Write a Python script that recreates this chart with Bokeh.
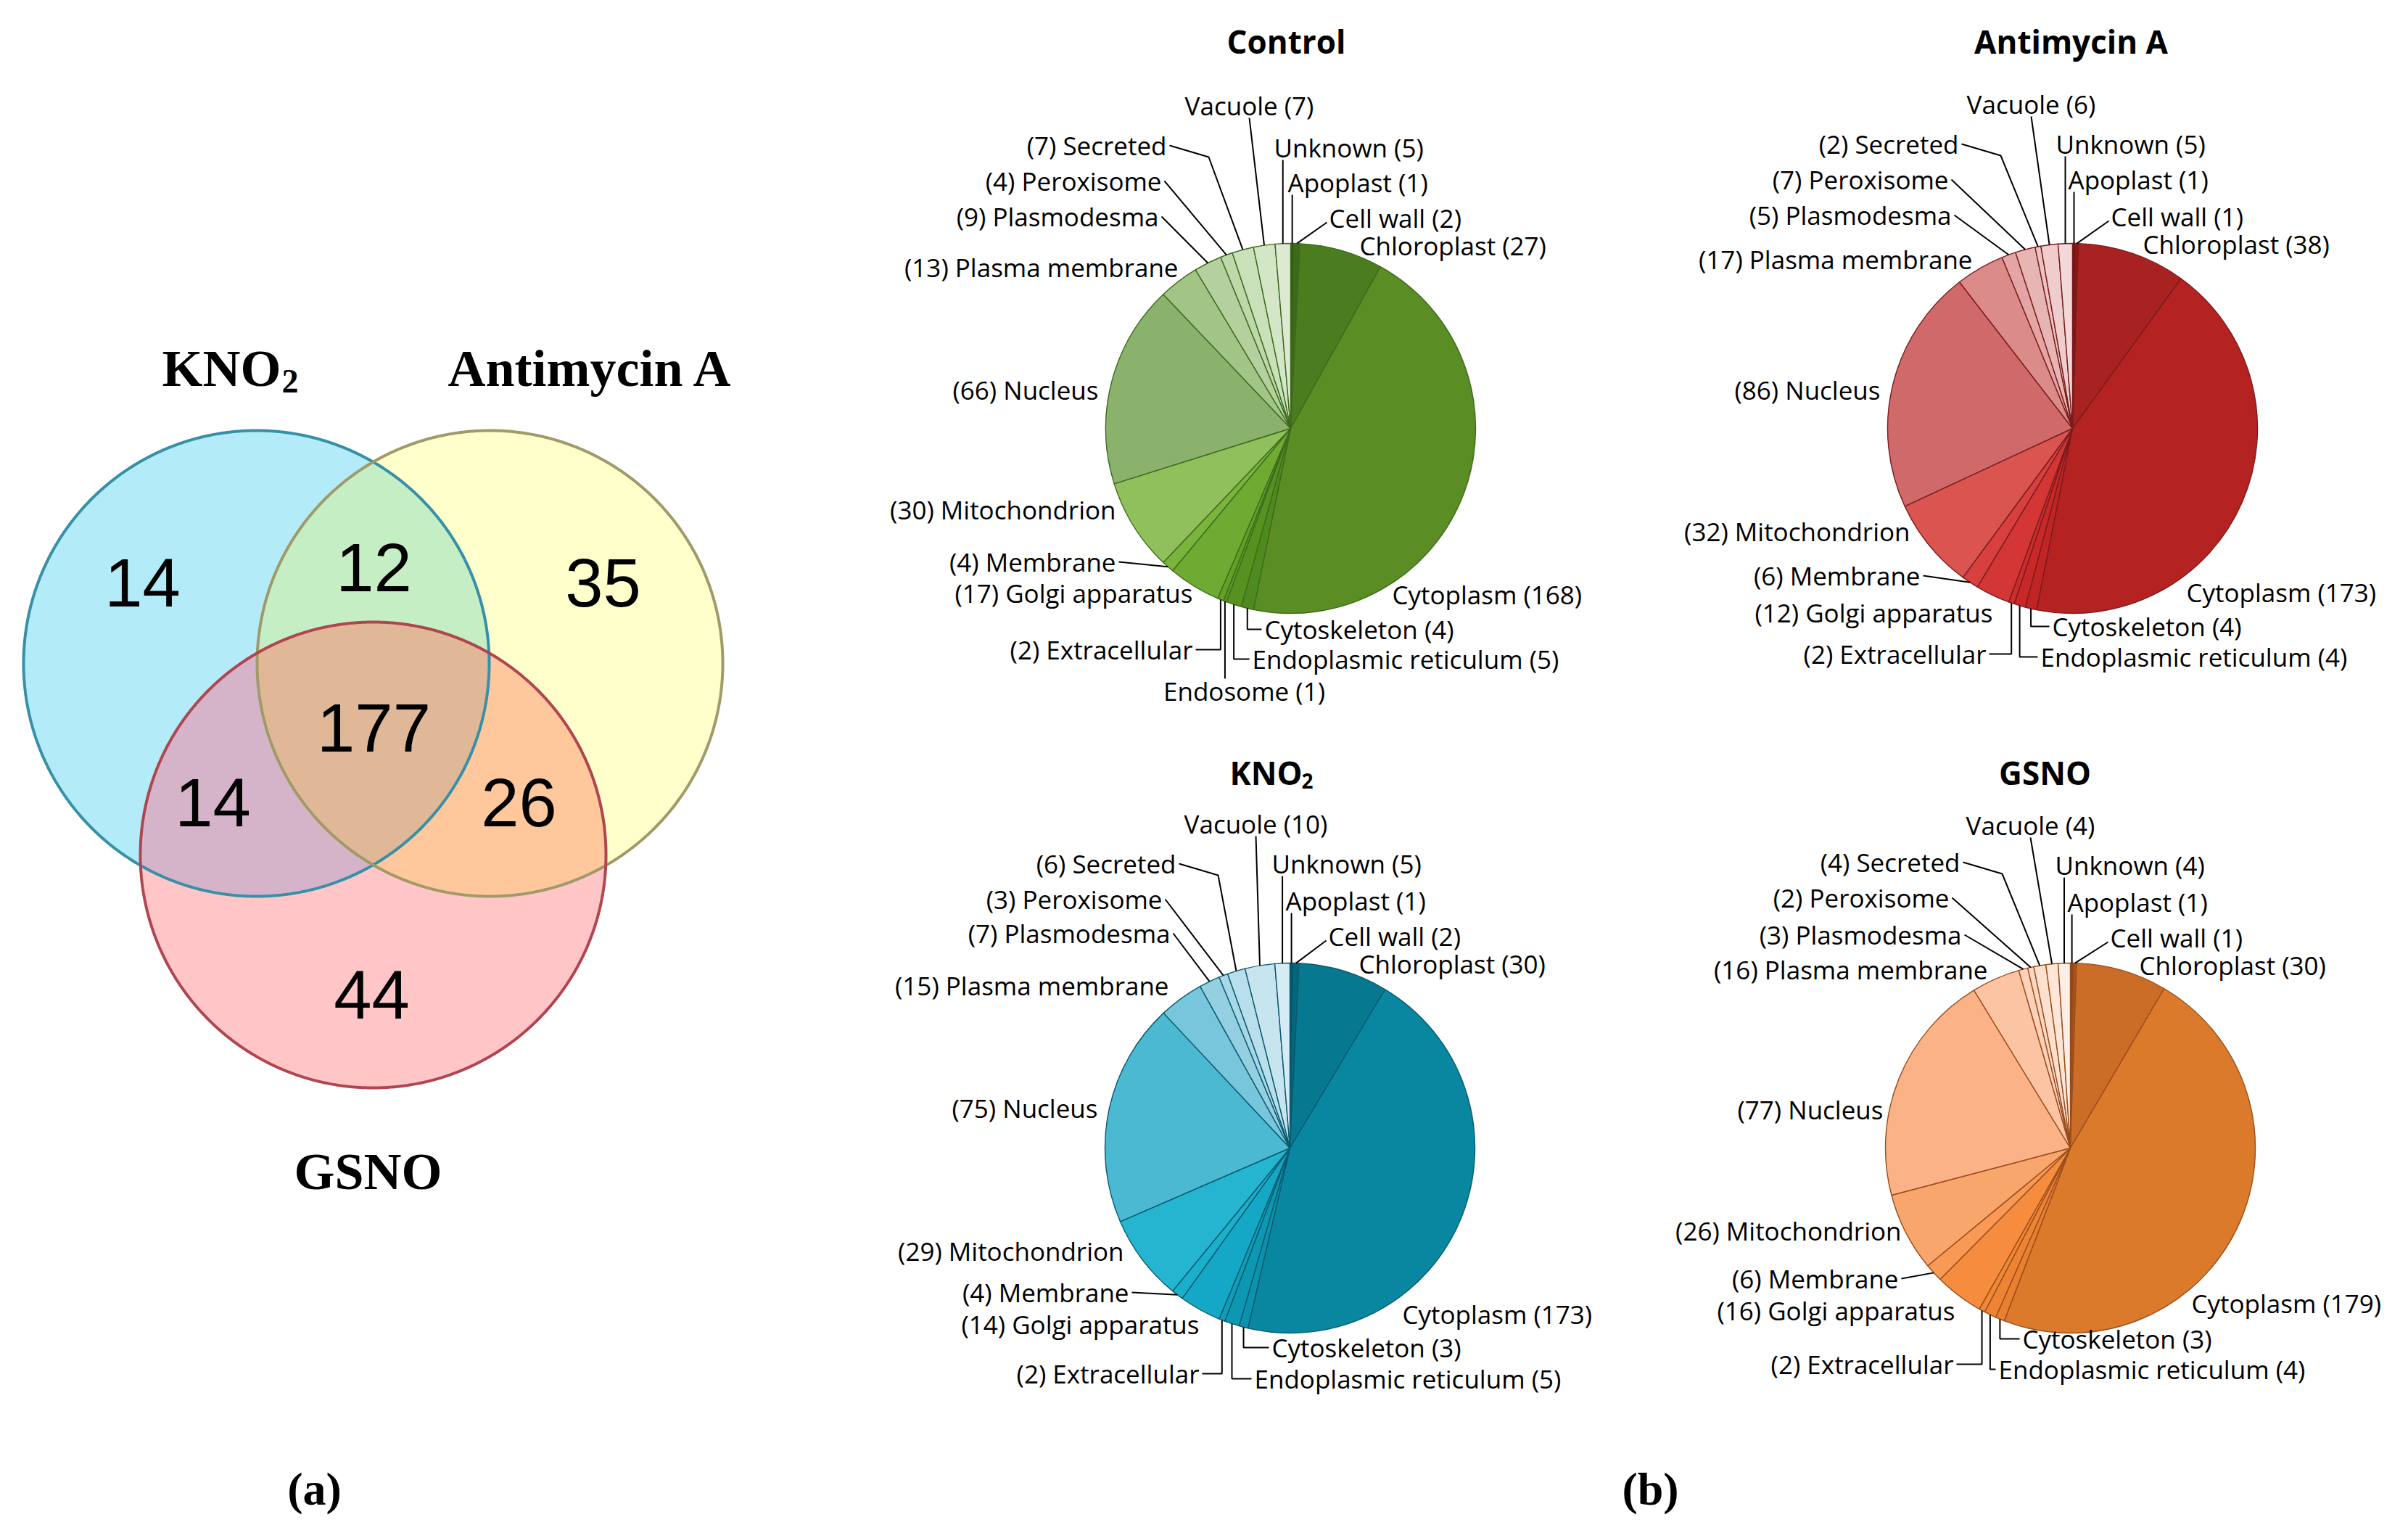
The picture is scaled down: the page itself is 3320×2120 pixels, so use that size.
import numpy as np
from bokeh.plotting import figure
from bokeh.models import Range1d, ColumnDataSource
from bokeh.core.properties import value
from bokeh.embed import file_html
from bokeh.resources import INLINE

H = 2120  # reference page height (y measured downward in layout tables)

# ------------------------------------------------------------------ data
venn_regions = ["K", "A", "G", "KA", "KG", "AG", "KAG"]
venn_counts = [14, 35, 44, 12, 14, 26, 177]

categories = ["Apoplast", "Cell wall", "Chloroplast", "Cytoplasm", "Cytoskeleton",
              "Endoplasmic reticulum", "Endosome", "Extracellular", "Golgi apparatus",
              "Membrane", "Mitochondrion", "Nucleus", "Plasma membrane", "Plasmodesma",
              "Peroxisome", "Secreted", "Vacuole", "Unknown"]
control = [1, 2, 27, 168, 4, 5, 1, 2, 17, 4, 30, 66, 13, 9, 4, 7, 7, 5]
antimycin = [1, 1, 38, 173, 4, 4, 0, 2, 12, 6, 32, 86, 17, 5, 7, 2, 6, 5]
kno2 = [1, 2, 30, 173, 3, 5, 0, 2, 14, 4, 29, 75, 15, 7, 3, 6, 10, 5]
gsno = [1, 1, 30, 179, 3, 4, 0, 2, 16, 6, 26, 77, 16, 3, 2, 4, 4, 4]

# ------------------------------------------------------------------ layout / styles
label_align = ["left", "left", "left", "left", "left", "left", "center", "right", "right",
               "right", "right", "right", "right", "right", "right", "right", "center", "left"]
leader_kind = ["vert", "diagL", None, None, "down_right", "down_right", "down", "down_left", None,
               "diag", None, None, None, "diag", "diag", "stub", "vac", "vert"]

off_control = [(-4, -339), (53, -290), (95, -252), (140, 229), (-36, 277), (-53, 318), (-64, 362),
               (-135, 305), (-135, 227), (-241, 184), (-241, 112), (-265, -53), (-155, -222),
               (-182, -292), (-178, -341), (-171, -390), (-57, -445), (-23, -387)]
off_anti = [(-6, -343), (53, -292), (97, -254), (157, 226), (-28, 273), (-44, 315), None,
            (-119, 311), (-110, 254), (-210, 203), (-224, 142), (-265, -53), (-138, -233),
            (-167, -294), (-171, -343), (-157, -392), (-57, -447), (-23, -392)]
off_kno2 = [(-6, -341), (53, -292), (95, -254), (155, 229), (-25, 275), (-49, 318), None,
            (-125, 311), (-125, 243), (-222, 199), (-229, 142), (-265, -55), (-167, -224),
            (-165, -296), (-176, -343), (-157, -392), (-47, -447), (-25, -392)]
off_gsno = [(-4, -339), (55, -290), (95, -252), (167, 214), (-66, 263), (-99, 305), None,
            (-161, 298), (-159, 224), (-237, 180), (-233, 114), (-258, -53), (-114, -246),
            (-150, -294), (-167, -345), (-152, -394), (-55, -445), (-21, -390)]

pal_green = ["#2f5a12", "#3b6b18", "#4b7c1f", "#5a8d24", "#4f8a1f", "#56921f", "#5c9a22", "#62a026",
             "#6fab32", "#7ab43c", "#8fc05c", "#8ab26c", "#a2c587", "#b3d09e", "#bed8ac", "#c9e0ba",
             "#d3e6c7", "#dee9d4"]
pal_red = ["#7a1010", "#8a1515", "#a82222", "#b42222", "#c02424", "#c82828", "#cc2a2a", "#cc2c2c",
           "#d43636", "#d84040", "#da5450", "#d06a6a", "#dc8b8b", "#e3a5a5", "#e8b5b5", "#ecc2c2",
           "#efcdcd", "#f2d8d8"]
pal_teal = ["#04556a", "#05677e", "#06788f", "#0a87a0", "#0b92ad", "#0c98b3", "#0e9bb6", "#0f9eb9",
            "#15a8c6", "#1aafcb", "#25b5d1", "#4cb9d3", "#78c6dc", "#95d0e2", "#a8d8e8", "#b8dfeb",
            "#c6e5ef", "#d5ecf4"]
pal_orange = ["#8a4a18", "#a8561c", "#cb6c27", "#dc7a2c", "#e88030", "#ec8434", "#ee8636", "#f08838",
              "#f68d3e", "#f89a56", "#f9a66c", "#fbb286", "#fcc4a2", "#fdd2b8", "#fdd9c4", "#fee0cf",
              "#fee6d9", "#ffeee6"]

R = 255
pies = [
    dict(title="Control", values=control, cx=1780, cy=591, ty=57, pal=pal_green, edge="#3e6a1c", off=off_control),
    dict(title="Antimycin A", values=antimycin, cx=2858, cy=591, ty=57, pal=pal_red, edge="#7a1c1c", off=off_anti),
    dict(title="KNO", sub="2", values=kno2, cx=1779, cy=1583, ty=1065, pal=pal_teal, edge="#0a5a6e", off=off_kno2),
    dict(title="GSNO", values=gsno, cx=2855, cy=1583, ty=1065, pal=pal_orange, edge="#9a4c1c", off=off_gsno),
]

LABEL_FONT = "Open Sans"
LABEL_SIZE = 35

p = figure(width=3300, height=2100, x_range=Range1d(1, 3301), y_range=Range1d(19, 2119),
           output_backend="svg", toolbar_location=None, min_border=0,
           x_axis_location=None, y_axis_location=None)
p.xgrid.visible = False
p.ygrid.visible = False
p.outline_line_color = None
p.background_fill_color = "white"
p.border_fill_color = "white"


def Y(ys):
    return [H - v for v in ys]


def txt(xs, ys, texts, font, size, align="center", style="normal", baseline="middle"):
    p.text(x=list(xs), y=Y(ys), text=list(texts), text_font=value(font),
           text_font_size=value(f"{size}px"), text_align=align, text_baseline=baseline,
           text_font_style=style, text_color="black")


# ------------------------------------------------------------------ Venn diagram
v_centers = {"K": (354, 915), "A": (676, 915), "G": (515, 1179)}
v_r = 321
v_fill = {"K": "#b4ebf9", "A": "#ffffcc", "G": "#ffc5c7", "KA": "#c6eec4", "KG": "#d5b4ca",
          "AG": "#ffc89c", "KAG": "#e0b898"}
v_line = {"K": "#3590a8", "A": "#a09a68", "G": "#b0454f"}
v_num_pos = {"K": (197, 804), "A": (832, 804), "G": (513, 1372), "KA": (516, 783),
             "KG": (294, 1107), "AG": (716, 1107), "KAG": (516, 1004)}


def region(keys):
    t = np.linspace(0, 2 * np.pi, 1440, endpoint=False)
    pts = []
    for k in keys:
        cx, cy = v_centers[k]
        x = cx + v_r * np.cos(t)
        y = cy + v_r * np.sin(t)
        m = np.ones_like(x, dtype=bool)
        for j in keys:
            if j != k:
                jx, jy = v_centers[j]
                m &= (x - jx) ** 2 + (y - jy) ** 2 <= v_r ** 2 + 1e-6
        pts.append(np.c_[x[m], y[m]])
    P = np.vstack(pts)
    c = P.mean(axis=0)
    o = np.argsort(np.arctan2(P[:, 1] - c[1], P[:, 0] - c[0]))
    return P[o, 0], H - P[o, 1]


for key in ["K", "A", "G", "KA", "KG", "AG", "KAG"]:
    xs, ys = region(list(key))
    p.patch(xs, ys, fill_color=v_fill[key], line_color=None)
for key in ["K", "A", "G"]:
    xs, ys = region([key])
    p.patch(np.r_[xs, xs[:1]], np.r_[ys, ys[:1]], fill_color=None, line_color=v_line[key], line_width=4)

txt([v_num_pos[k][0] for k in venn_regions], [v_num_pos[k][1] for k in venn_regions],
    [str(c) for c in venn_counts], "Liberation Sans", 94)

# set titles
txt([224], [508], ["KNO"], "Liberation Serif", 72, align="left", style="bold")
txt([389], [526], ["2"], "Liberation Serif", 46, align="left", style="bold")
txt([815], [508], ["Antimycin A"], "Liberation Serif", 72, style="bold")
txt([508], [1615], ["GSNO"], "Liberation Serif", 72, style="bold")

# panel labels
txt([434, 2276], [2053, 2053], ["(a)", "(b)"], "Liberation Serif", 64, style="bold")

# ------------------------------------------------------------------ pies
for pie in pies:
    vals = np.array(pie["values"], dtype=float)
    tot = vals.sum()
    a2 = np.cumsum(vals) / tot * 360.0
    a1 = a2 - vals / tot * 360.0
    keep = vals > 0
    src = ColumnDataSource(dict(
        start=np.radians(90 - a2[keep]), end=np.radians(90 - a1[keep]),
        color=[c for c, k in zip(pie["pal"], keep) if k]))
    cx, cy = pie["cx"], pie["cy"]
    p.wedge(x=cx, y=H - cy, radius=R, start_angle="start", end_angle="end", source=src,
            fill_color="color", line_color=pie["edge"], line_width=1.4)

    # labels and leaders (screen coords, y down)
    groups = {"left": ([], [], []), "right": ([], [], []), "center": ([], [], [])}
    lx_all, ly_all = [], []
    for i, cat in enumerate(categories):
        if vals[i] <= 0 or pie["off"][i] is None:
            continue
        dx, dy = pie["off"][i]
        lx, ly = cx + dx, cy + dy
        al = label_align[i]
        v = int(vals[i])
        label = f"({v}) {cat}" if al == "right" else f"{cat} ({v})"
        g = groups[al]
        g[0].append(lx); g[1].append(ly); g[2].append(label)

        mid = np.radians((a1[i] + a2[i]) / 2)
        ex, ey = cx + R * np.sin(mid), cy - R * np.cos(mid)
        kind = leader_kind[i]
        path = None
        if kind == "vert":
            path = [(ex, ly + 17), (ex, ey)]
        elif kind == "vac":
            path = [(lx, ly + 17), (ex, ey)]
        elif kind == "diag":
            path = [(lx + 4, ly), (ex, ey)]
        elif kind == "diagL":
            path = [(lx - 3, ly + 6), (ex, ey)]
        elif kind == "stub":
            path = [(lx + 4, ly), (lx + 58, ly + 16), (ex, ey)]
        elif kind == "down_right":
            path = [(ex, ey), (ex, ly), (lx - 4, ly)]
        elif kind == "down_left":
            path = [(ex, ey), (ex, ly), (lx + 4, ly)]
        elif kind == "down":
            path = [(ex, ey), (ex, ly - 17)]
        if path:
            lx_all.append([q[0] for q in path])
            ly_all.append([H - q[1] for q in path])
    if lx_all:
        p.multi_line(xs=lx_all, ys=ly_all, line_color="black", line_width=2)
    for al, (xs, ys, ts) in groups.items():
        if ts:
            txt(xs, ys, ts, LABEL_FONT, LABEL_SIZE, align=al)

    # title
    if "sub" in pie:
        x0 = cx - 26 - 57
        txt([x0], [pie["ty"]], [pie["title"]], LABEL_FONT, 44, align="left", style="bold")
        txt([x0 + 99], [pie["ty"] + 12], [pie["sub"]], LABEL_FONT, 28, align="left", style="bold")
    else:
        txt([cx - (6 if pie["title"] == "Control" else 2) - (33 if pie["title"] == "GSNO" else 0)],
            [pie["ty"]], [pie["title"]], LABEL_FONT, 44, style="bold")

open("out.html", "w").write(file_html(p, INLINE))
